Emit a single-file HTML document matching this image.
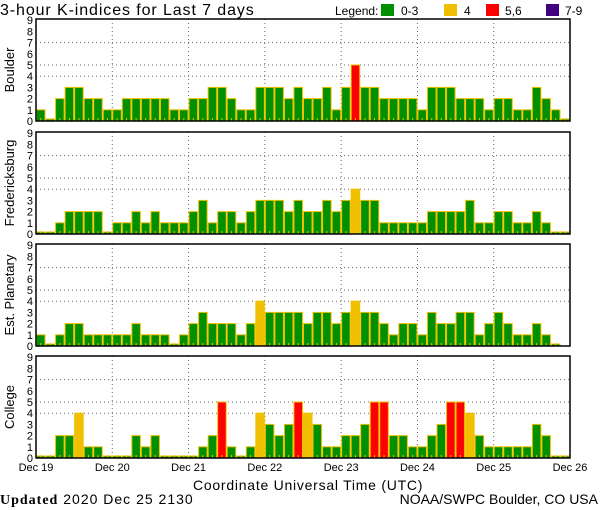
<!DOCTYPE html>
<html><head><meta charset="utf-8"><style>
html,body{margin:0;padding:0;background:#fff;}
svg{display:block;}
text{font-family:"Liberation Sans",sans-serif;fill:#000;}
</style></head><body>
<svg id="s" width="600" height="510" viewBox="0 0 600 510" xmlns="http://www.w3.org/2000/svg">
<text x="0" y="15" font-size="16" letter-spacing="0.9">3-hour K-indices for Last 7 days</text>
<text x="335" y="15" font-size="12">Legend:</text>
<rect x="381" y="4" width="13" height="12" fill="#009000"/><text x="401" y="15" font-size="12">0-3</text>
<rect x="444" y="4" width="13" height="12" fill="#f0c000"/><text x="464" y="15" font-size="12">4</text>
<rect x="486" y="4" width="13" height="12" fill="#ff0000"/><text x="505" y="15" font-size="12">5,6</text>
<rect x="546" y="4" width="13" height="12" fill="#400080"/><text x="565" y="15" font-size="12">7-9</text>
<text x="193" y="490" font-size="14" letter-spacing="0.75">Coordinate Universal Time (UTC)</text>
<text x="0" y="504" font-size="14" letter-spacing="1"><tspan font-family="Liberation Serif,serif" font-weight="bold">Updated</tspan> 2020 Dec 25 2130</text>
<text x="598" y="504" font-size="14" text-anchor="end">NOAA/SWPC Boulder, CO USA</text>
</svg>
<script>
var s=document.getElementById('s'),NS='http://www.w3.org/2000/svg';
function el(t,a,txt){var e=document.createElementNS(NS,t);for(var k in a)e.setAttribute(k,a[k]);if(txt!=null)e.textContent=txt;s.appendChild(e);return e;}
var names=['Boulder','Fredericksburg','Est. Planetary','College'];
var tops=[19,132,244,356];
var data=[
[1,0,2,3,3,2,2,1, 1,2,2,2,2,2,1,1, 2,2,3,3,2,1,1,3, 3,3,2,3,2,2,3,1, 3,5,3,3,2,2,2,2, 1,3,3,3,2,2,2,1, 2,2,1,1,3,2,1,0],
[0,0,1,2,2,2,2,0, 1,1,2,1,2,1,1,1, 2,3,1,2,2,1,2,3, 3,3,2,3,2,2,3,2, 3,4,3,3,1,1,1,1, 1,2,2,2,2,3,1,1, 2,2,1,1,2,1,0,0],
[1,0,1,2,2,1,1,1, 1,1,2,1,1,1,0,1, 2,3,2,2,2,1,2,4, 3,3,3,3,2,3,3,2, 3,4,3,3,2,1,2,2, 1,3,2,2,3,3,1,2, 3,2,1,1,2,1,0,-1],
[0,0,2,2,4,1,1,0, 0,0,2,1,2,0,0,0, 0,1,2,5,1,0,1,4, 3,2,3,5,4,3,1,1, 2,2,3,5,5,2,2,1, 1,2,3,5,5,4,2,1, 1,1,1,1,3,2,0,0]];
var L=36,R=570,H=102,U=11.2,bw=(R-L)/56;
for(var p=0;p<4;p++){
 var t=tops[p],b=t+H;
 [7,5,4].forEach(function(v){var y=b-v*U;el('line',{x1:L,x2:R,y1:y,y2:y,stroke:'#666','stroke-dasharray':'1 3'});});
 for(var d=1;d<7;d++){var x=L+d*(R-L)/7;el('line',{x1:x,x2:x,y1:t,y2:b,stroke:'#666','stroke-dasharray':'1 3'});}
 for(var i=0;i<56;i++){var v=data[p][i];if(v<0)continue;
  var x=L+i*bw,h=v==0?2:v*U;
  var c=v<=3?'#009000':v==4?'#f0c000':v<=6?'#ff0000':'#400080';
  el('rect',{x:x+0.5,y:b-h,width:bw-1,height:h,fill:c,stroke:'#f0c000','stroke-width':1});
  el('line',{x1:x+bw/2,x2:x+bw/2,y1:b,y2:b-3,stroke:'#f0c000','stroke-width':1});
 }
 el('rect',{x:L,y:t,width:R-L,height:H,fill:'none',stroke:'#000','stroke-width':1.5});
 for(var n=0;n<=9;n++){el('text',{x:33,y:b-n*U+4,'font-size':11,'text-anchor':'end'},String(n));}
 el('text',{x:0,y:0,'font-size':13,'text-anchor':'middle',transform:'translate(14,'+(t+H/2)+') rotate(-90)'},names[p]);
}
var days=['Dec 19','Dec 20','Dec 21','Dec 22','Dec 23','Dec 24','Dec 25','Dec 26'];
for(var d=0;d<8;d++){el('text',{x:L+d*(R-L)/7,y:471,'font-size':11,'text-anchor':'middle'},days[d]);}
</script>
</body></html>
